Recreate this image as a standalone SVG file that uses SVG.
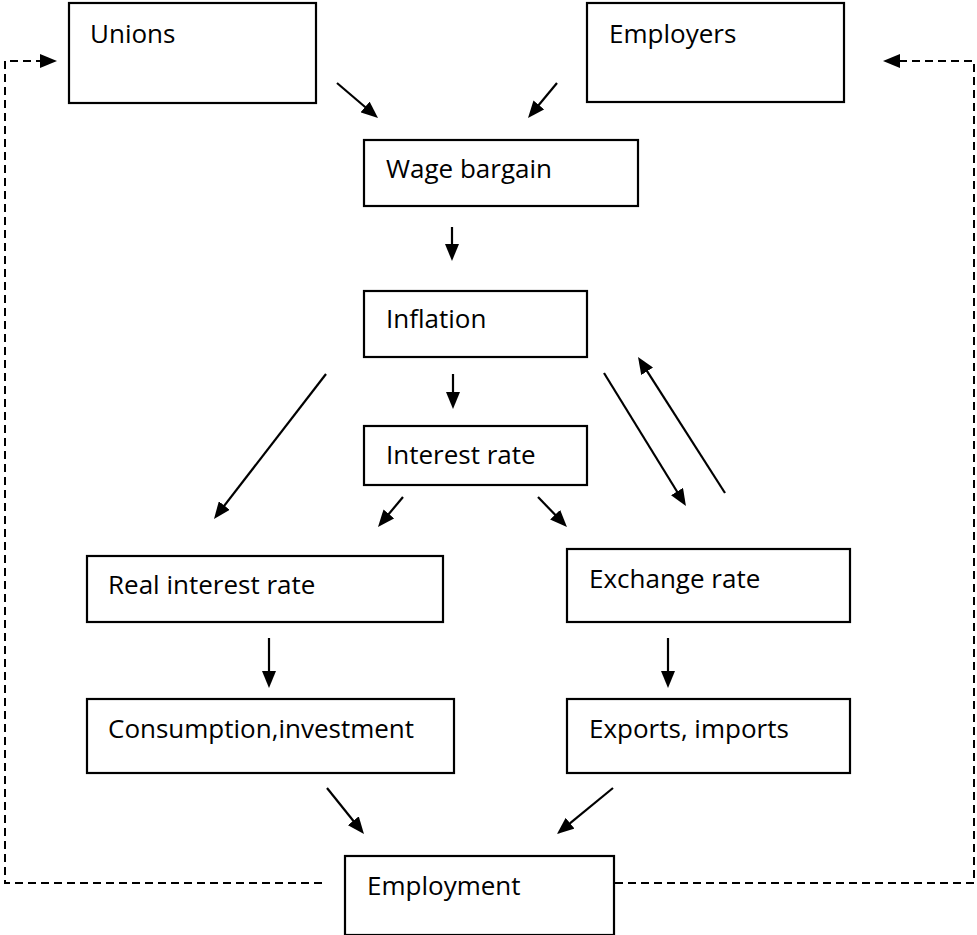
<svg xmlns="http://www.w3.org/2000/svg" width="977" height="935" viewBox="0 0 977 935">
  <style>
    .box { fill: #ffffff; stroke: #000000; stroke-width: 2.2; }
    .label { font-family: "Open Sans", "Noto Sans", sans-serif; font-size: 26px; fill: #000000; }
    .arrow { fill: none; stroke: #000000; stroke-width: 2.2; marker-end: url(#head); }
    .feedback { fill: none; stroke: #000000; stroke-width: 2; stroke-dasharray: 8 5; marker-end: url(#head); }
  </style>
  <defs>
    <!-- solid triangular head; its tip sits 10px past the line end -->
    <marker id="head" markerUnits="userSpaceOnUse" markerWidth="17" markerHeight="14" refX="7" refY="7" orient="auto">
      <path d="M0,0 L17,7 L0,14 z" fill="#000000"/>
    </marker>
  </defs>
  <rect width="977" height="935" fill="#ffffff"/>

  <g id="connectors">
    <line class="arrow" x1="337" y1="83" x2="370.4" y2="111.5"/>
    <line class="arrow" x1="557" y1="83" x2="534.4" y2="110.3"/>
    <line class="arrow" x1="452" y1="227" x2="452" y2="251"/>
    <line class="arrow" x1="453" y1="374" x2="453" y2="399"/>
    <line class="arrow" x1="326" y1="374" x2="220.1" y2="511.1"/>
    <line class="arrow" x1="403" y1="497" x2="384.4" y2="519.3"/>
    <line class="arrow" x1="538" y1="497" x2="560" y2="519.8"/>
    <line class="arrow" x1="604" y1="373" x2="680.7" y2="497.5"/>
    <line class="arrow" x1="725" y1="493" x2="643.4" y2="365.4"/>
    <line class="arrow" x1="269" y1="638" x2="269" y2="678"/>
    <line class="arrow" x1="668" y1="638" x2="668" y2="678"/>
    <line class="arrow" x1="327" y1="788" x2="357.7" y2="826.2"/>
    <line class="arrow" x1="613" y1="788" x2="564.7" y2="827.7"/>
    <path class="feedback" d="M322,883 H5 V61 H47"/>
    <path class="feedback" d="M615,883 H974 V61 H893"/>
  </g>

  <g id="unions">
    <rect class="box" x="69" y="3" width="247" height="100"/>
    <text class="label" x="90" y="43">Unions</text>
  </g>
  <g id="employers">
    <rect class="box" x="587" y="3" width="257" height="99"/>
    <text class="label" x="609" y="43">Employers</text>
  </g>
  <g id="wage-bargain">
    <rect class="box" x="364" y="140" width="274" height="66"/>
    <text class="label" x="386" y="178">Wage bargain</text>
  </g>
  <g id="inflation">
    <rect class="box" x="364" y="291" width="223" height="66"/>
    <text class="label" x="386" y="328">Inflation</text>
  </g>
  <g id="interest-rate">
    <rect class="box" x="364" y="426" width="223" height="59"/>
    <text class="label" x="386" y="464">Interest rate</text>
  </g>
  <g id="real-interest-rate">
    <rect class="box" x="87" y="556" width="356" height="66"/>
    <text class="label" x="108" y="594">Real interest rate</text>
  </g>
  <g id="exchange-rate">
    <rect class="box" x="567" y="549" width="283" height="73"/>
    <text class="label" x="589" y="588">Exchange rate</text>
  </g>
  <g id="consumption-investment">
    <rect class="box" x="87" y="699" width="367" height="74"/>
    <text class="label" x="108" y="738">Consumption,investment</text>
  </g>
  <g id="exports-imports">
    <rect class="box" x="567" y="699" width="283" height="74"/>
    <text class="label" x="589" y="738">Exports, imports</text>
  </g>
  <g id="employment">
    <rect class="box" x="345" y="856" width="269" height="79"/>
    <text class="label" x="367" y="895">Employment</text>
  </g>
</svg>
